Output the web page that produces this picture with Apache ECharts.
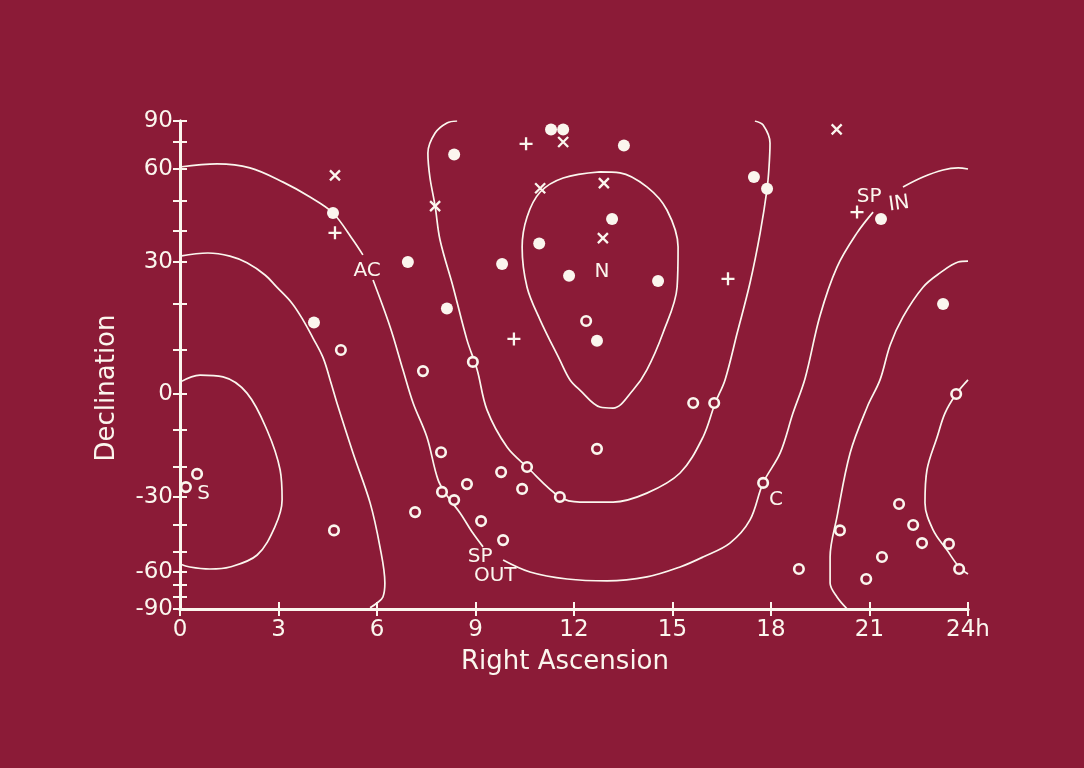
<!DOCTYPE html>
<html><head><meta charset="utf-8">
<script src="https://cdn.jsdelivr.net/npm/echarts@6/dist/echarts.min.js"></script>
<style>html,body{margin:0;padding:0;background:#8b1b37}#c{width:1084px;height:768px}</style>
</head><body><div id="c"></div>
<script>
// Declination axis is non-linear (hand-drawn, roughly equal-area); knots define the scale.
const decKnots   = [-90,-80,-70,-60,-50,-40,-30,-20,-10,0,10,20,30,40,50,60,75,90];
const scaleKnots = [0,12,24,37,57,84,112,142,179,215,259,305,347,378,408,440,467,488];
const decLabelValues = [-90,-60,-30,0,30,60,90];
const raTickLabels = ['0','3','6','9','12','15','18','21','24h'];

// Points: [RA hours, Dec degrees]
const filledDots = [[4.66,46],[4.08,16],[11.30,84],[11.67,84],[13.52,73],[8.35,68],[13.16,44],[10.94,36],[6.94,30],[9.81,29.5],[11.85,26.7],[14.56,25.5],[8.13,19],[12.70,12],[17.48,57.5],[17.88,53.8],[21.35,44],[23.24,20]];
const openCircles = [[4.90,10],[0.52,-22.3],[0.18,-26.7],[4.69,-42],[12.37,16.3],[8.92,7.3],[7.40,5.2],[12.70,-15.1],[7.95,-16],[10.57,-20],[9.78,-21.7],[8.74,-25.7],[10.42,-27.3],[7.98,-28.3],[8.35,-31.1],[11.57,-30],[7.16,-35.4],[9.17,-38.6],[9.84,-45.6],[15.63,-2.5],[16.27,-2.5],[17.76,-25.3],[20.10,-42],[21.90,-32.5],[22.33,-40],[22.60,-46.7],[23.42,-47],[23.64,0],[21.38,-52.5],[18.85,-58.5],[20.90,-65.4],[23.73,-58.5]];
const crosses = [[4.72,58],[11.67,75],[12.91,55.6],[10.97,54],[7.77,48.3],[12.88,37.7],[20.0,84]];
const pluses = [[4.72,39.4],[10.54,74],[10.17,12.4],[20.62,46.3],[16.69,26]];

// Contours (null = break in the drawn line)
const contourSLeft = [[0,2.7],[0.61,4.3],[1.31,3.9],[2.04,0.2],[2.65,-10],[3.05,-21],[3.11,-31],[2.89,-40.7],[2.35,-51.5],[1.52,-57.5],[0.91,-58.5],[0.30,-57.5],[0,-56]];
const contourSRight = [[24,3.2],[23.64,0],[23.30,-5.3],[23.06,-11.9],[22.75,-21],[22.69,-32.1],[22.94,-41.9],[23.36,-49.3],[23.73,-57.5],[24,-61.5]];
const contourBLeft = [[0,31.9],[0.85,32.9],[1.52,31.9],[2.04,29.8],[2.59,26.9],[2.95,24.0],[3.41,20.2],[3.75,16.5],[4.05,12.6],[4.36,8.2],[4.60,2.5],[4.78,-2.5],[5.27,-16.2],[5.79,-32.1],[6.09,-48.1],[6.24,-68.5],[6.18,-80],[6.0,-85],[5.79,-89]];
const contourBRight = [[24,30.3],[23.70,30],[23.15,27.4],[22.63,24],[22.02,17.2],[21.63,11.1],[21.32,3.2],[20.93,-3.6],[20.41,-16.2],[20.01,-37.1],[19.80,-52.5],[19.80,-68.5],[20.01,-80],[20.32,-90]];
const contourA = [[0,61.1],[1.13,62.8],[2.13,60.6],[3.14,55.9],[3.96,51.25],[4.66,46],[5.27,37.1],[5.57,32.3],null,[5.88,25.7],[6.40,15.0],[6.79,5.5],[7.10,-2.5],[7.52,-11.9],[7.86,-24.3],[8.16,-30],[8.53,-35.7],[8.92,-43],[9.23,-48.1],null,[9.84,-54],[10.66,-60],[11.79,-65.4],[13.01,-66.9],[14.22,-63.8],[15.23,-57.5],[15.93,-52.5],[16.75,-46.7],[17.36,-38.2],[17.76,-25.3],[18.28,-16.2],[18.67,-5.3],[19.04,3.6],[19.49,17.4],[20.01,28.8],[20.62,39.4],[21.11,46.3],null,[22.02,54.4],[22.63,57.5],[23.24,59.7],[23.70,60.6],[24,60]];
const contourC = [[8.44,90],[8.13,88.6],[7.77,81.4],[7.55,68.9],[7.61,57.5],[7.77,48.3],[7.92,37.1],[8.32,24],[8.74,12.2],[9.05,5.5],[9.35,-4.4],[9.96,-14.6],[10.57,-20],[11.57,-30],[12.18,-31.8],[13.19,-31.8],[14.22,-28.7],[15.23,-22],[15.93,-11.9],[16.30,-2.5],[16.60,3.2],[16.97,13.7],[17.36,25],[17.67,39.4],[17.88,53.75],[17.94,61.1],[17.97,74.4],[17.76,87.1],[17.51,90]];
const contourD = [[12.79,59.1],[11.67,57.2],[10.97,52.8],[10.57,44.7],[10.42,34.8],[10.57,24],[10.97,16.5],[11.57,7.7],[11.88,3.2],[12.18,0.9],[12.79,-3.6],[13.19,-3.9],[13.80,0.9],[14.22,5.5],[14.71,13.7],[15.14,24],[15.17,34.8],[14.83,47],[14.22,54.4],[13.40,58.8],[12.79,59.1]];

const annotations = [
  {text:'AC', at:[5.70,28]}, {text:'N', at:[12.85,27.6]}, {text:'S', at:[0.72,-29]},
  {text:'C', at:[18.15,-31.1]}, {text:'SP', at:[9.14,-52.5]}, {text:'OUT', at:[9.6,-63]},
  {text:'SP', at:[20.99,51.25]}, {text:'IN', at:[21.9,49], rotate:8}
];

function decToY(d){
  for(let i=1;i<decKnots.length;i++){
    if(d<=decKnots[i]){
      const t=(d-decKnots[i-1])/(decKnots[i]-decKnots[i-1]);
      return scaleKnots[i-1]+t*(scaleKnots[i]-scaleKnots[i-1]);
    }
  }
  return scaleKnots[scaleKnots.length-1];
}
function yToDec(y){
  for(let i=1;i<scaleKnots.length;i++){
    if(y<=scaleKnots[i]+1e-9){
      const t=(y-scaleKnots[i-1])/(scaleKnots[i]-scaleKnots[i-1]);
      return decKnots[i-1]+t*(decKnots[i]-decKnots[i-1]);
    }
  }
  return 90;
}
const proj = p => [p[0], decToY(p[1])];

const FONT = 'DejaVu Sans';
const WHITE = '#fbf6ee';
const BG = '#8b1b37';

function segments(arr){
  const out=[]; let cur=[];
  arr.forEach(p=>{ if(p===null){ if(cur.length) out.push(cur); cur=[]; } else cur.push(proj(p)); });
  if(cur.length) out.push(cur);
  return out;
}
const lineSeries = [];
[contourSLeft,contourSRight,contourBLeft,contourBRight,contourA,contourC,contourD].forEach(c=>{
  segments(c).forEach(seg=>{
    lineSeries.push({type:'line', data:seg, smooth:0.35, showSymbol:false, symbol:'none',
      lineStyle:{color:WHITE, width:1.7}, z:2, silent:true});
  });
});

const yTickVals = decKnots.map(decToY);
const yLabelVals = decLabelValues.map(decToY);
const yMax = scaleKnots[scaleKnots.length-1];
const axisLineStyle = {color:WHITE, width:3};
const tickStyle = {color:WHITE, width:2};

const option = {
  backgroundColor: BG,
  animation:false,
  grid:{left:180, right:116, top:121, bottom:159},
  xAxis:[{
    type:'value', min:0, max:24, interval:3, position:'bottom',
    axisLine:{show:true, lineStyle:axisLineStyle},
    axisTick:{show:true, inside:true, length:7, lineStyle:tickStyle},
    axisLabel:{color:WHITE, fontFamily:FONT, fontSize:23, margin:10,
      formatter:(v)=>raTickLabels[Math.round(v/3)]},
    splitLine:{show:false},
    name:'Right Ascension', nameLocation:'middle', nameGap:40,
    nameTextStyle:{color:WHITE, fontFamily:FONT, fontSize:26, padding:[0,18,0,0]}
  },{
    type:'value', min:0, max:24, interval:3, position:'top',
    axisLine:{show:true, lineStyle:axisLineStyle},
    axisTick:{show:true, inside:true, length:7, lineStyle:tickStyle},
    axisLabel:{show:false}, splitLine:{show:false}
  }],
  yAxis:[{
    type:'value', min:0, max:yMax, position:'left',
    axisLine:{show:true, lineStyle:axisLineStyle},
    axisTick:{show:true, inside:true, length:7, customValues:yTickVals, lineStyle:tickStyle},
    axisLabel:{color:WHITE, fontFamily:FONT, fontSize:23, margin:7, customValues:yLabelVals,
      formatter:(v)=>String(Math.round(yToDec(v)))},
    splitLine:{show:false},
    name:'Declination', nameLocation:'middle', nameGap:60, nameRotate:90,
    nameTextStyle:{color:WHITE, fontFamily:FONT, fontSize:26, padding:[0,46,0,0]}
  },{
    type:'value', min:0, max:yMax, position:'right',
    axisLine:{show:true, lineStyle:axisLineStyle},
    axisTick:{show:true, inside:true, length:7, customValues:yTickVals, lineStyle:tickStyle},
    axisLabel:{show:false}, splitLine:{show:false}
  },{
    type:'value', min:0, max:yMax, position:'left',
    axisLine:{show:false},
    axisTick:{show:true, inside:false, length:5, customValues:yLabelVals, lineStyle:tickStyle},
    axisLabel:{show:false}, splitLine:{show:false}
  }],
  series: lineSeries.concat([
    {type:'scatter', data:filledDots.map(proj), symbol:'circle', symbolSize:12,
      itemStyle:{color:WHITE, opacity:1}, z:4, silent:true},
    {type:'scatter', data:openCircles.map(proj), symbol:'circle', symbolSize:9.5,
      itemStyle:{color:BG, borderColor:WHITE, borderWidth:2.6, opacity:1}, z:4, silent:true},
    {type:'scatter', data:crosses.map(proj), symbol:'path://M0,0L10,10M10,0L0,10', symbolSize:10,
      itemStyle:{color:'rgba(0,0,0,0)', borderColor:WHITE, borderWidth:2.3, opacity:1}, z:4, silent:true},
    {type:'scatter', data:pluses.map(proj), symbol:'path://M5,0L5,10M0,5L10,5', symbolSize:13,
      itemStyle:{color:'rgba(0,0,0,0)', borderColor:WHITE, borderWidth:2.3, opacity:1}, z:4, silent:true},
    {type:'scatter', symbolSize:0, z:5, silent:true, itemStyle:{opacity:1},
      data:annotations.map(a=>({name:a.text, value:proj(a.at),
        label:{show:true, position:'inside', formatter:a.text, rotate:a.rotate||0,
          color:WHITE, fontFamily:FONT, fontSize:20}}))}
  ])
};
const chart = echarts.init(document.getElementById('c'), null, {renderer:'canvas'});
chart.setOption(option);
</script></body></html>
